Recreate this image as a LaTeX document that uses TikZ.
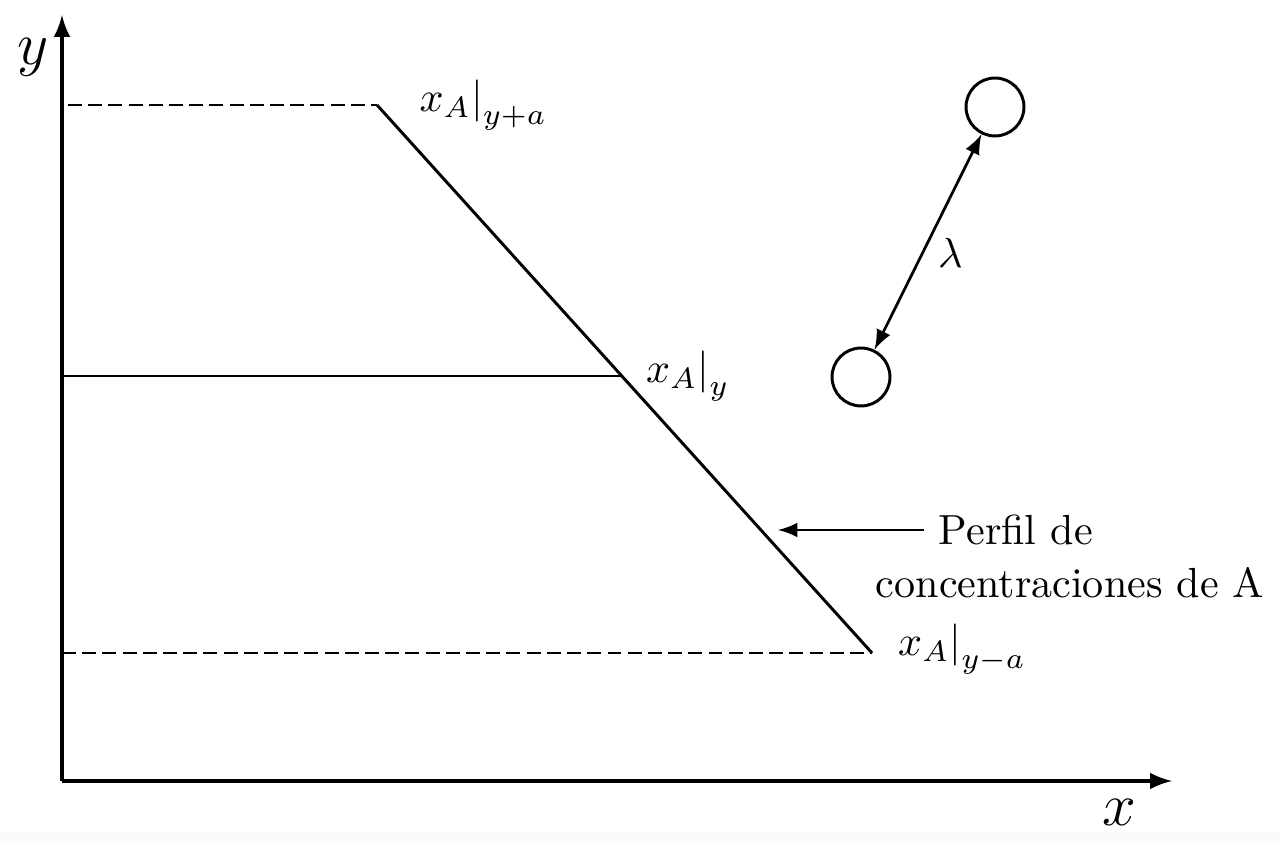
\documentclass[tikz,border=0pt]{standalone}
\usetikzlibrary{positioning}
\begin{document}
\begin{tikzpicture}[x=0.835mm,y=0.835mm,
		eje/.style={line width=0.8pt,-latex},
		guia/.style={line width=0.5pt,dash pattern=on 3.3pt off 1.5pt},
		perfil/.style={line width=0.7pt},
		particula/.style={draw,circle,line width=0.7pt,minimum size=4.84mm,inner sep=0pt}]
	\useasboundingbox (0,0) rectangle (128,-84.3);
	\fill [black!2] (0,-83.2) rectangle (128,-84.3);
	% ejes
	\coordinate (O) at (6.2,-78.1);
	\draw [eje] (O) -- (6.2,-1.5) coordinate (ytip);
	\draw [eje] (O) -- (117.2,-78.1) coordinate (xtip);
	\node (ylab) at (3.3,-5.7) {\Large $y$};
	\node (xlab) at (111.9,-81.2) {\Large $x$};
	% perfil
	\coordinate (ptop) at (37.7,-10.5);
	\coordinate (pmid) at (62.2,-37.6);
	\coordinate (pbot) at (87.2,-65.3);
	\draw [guia] (6.8,-10.5) -- (ptop);
	\draw [guia] (O |- pbot) -- (pbot);
	\draw [line width=0.55pt] (O |- pmid) -- (pmid);
	\draw [perfil] (ptop) -- (pbot);
	\node [right=5.4pt of ptop] (ltop) {$\left.x_A\right|_{y+a}$};
	\node [right=1pt of pmid] (lmid) {$\left.x_A\right|_{y}$};
	\node [right=1.5pt of pbot, yshift=1pt] (lbot) {$\left.x_A\right|_{y-a}$};
	% etiqueta
	\node [anchor=west] (perf) at (92.4,-53.0) {Perfil de};
	\node [anchor=west] (conc) at (86.1,-58.3) {concentraciones de A};
	\coordinate (ptip) at (77.8,-53.0);
	\draw [line width=0.6pt,-latex] (perf) -- (ptip);
	% particulas
	\node [particula] (arriba) at (99.5,-10.7) {};
	\node [particula] (abajo) at (86.1,-37.7) {};
	\draw [line width=0.65pt,latex-latex] (arriba) -- node [pos=0.55,right] {$\lambda$} (abajo);
\end{tikzpicture}
\end{document}
